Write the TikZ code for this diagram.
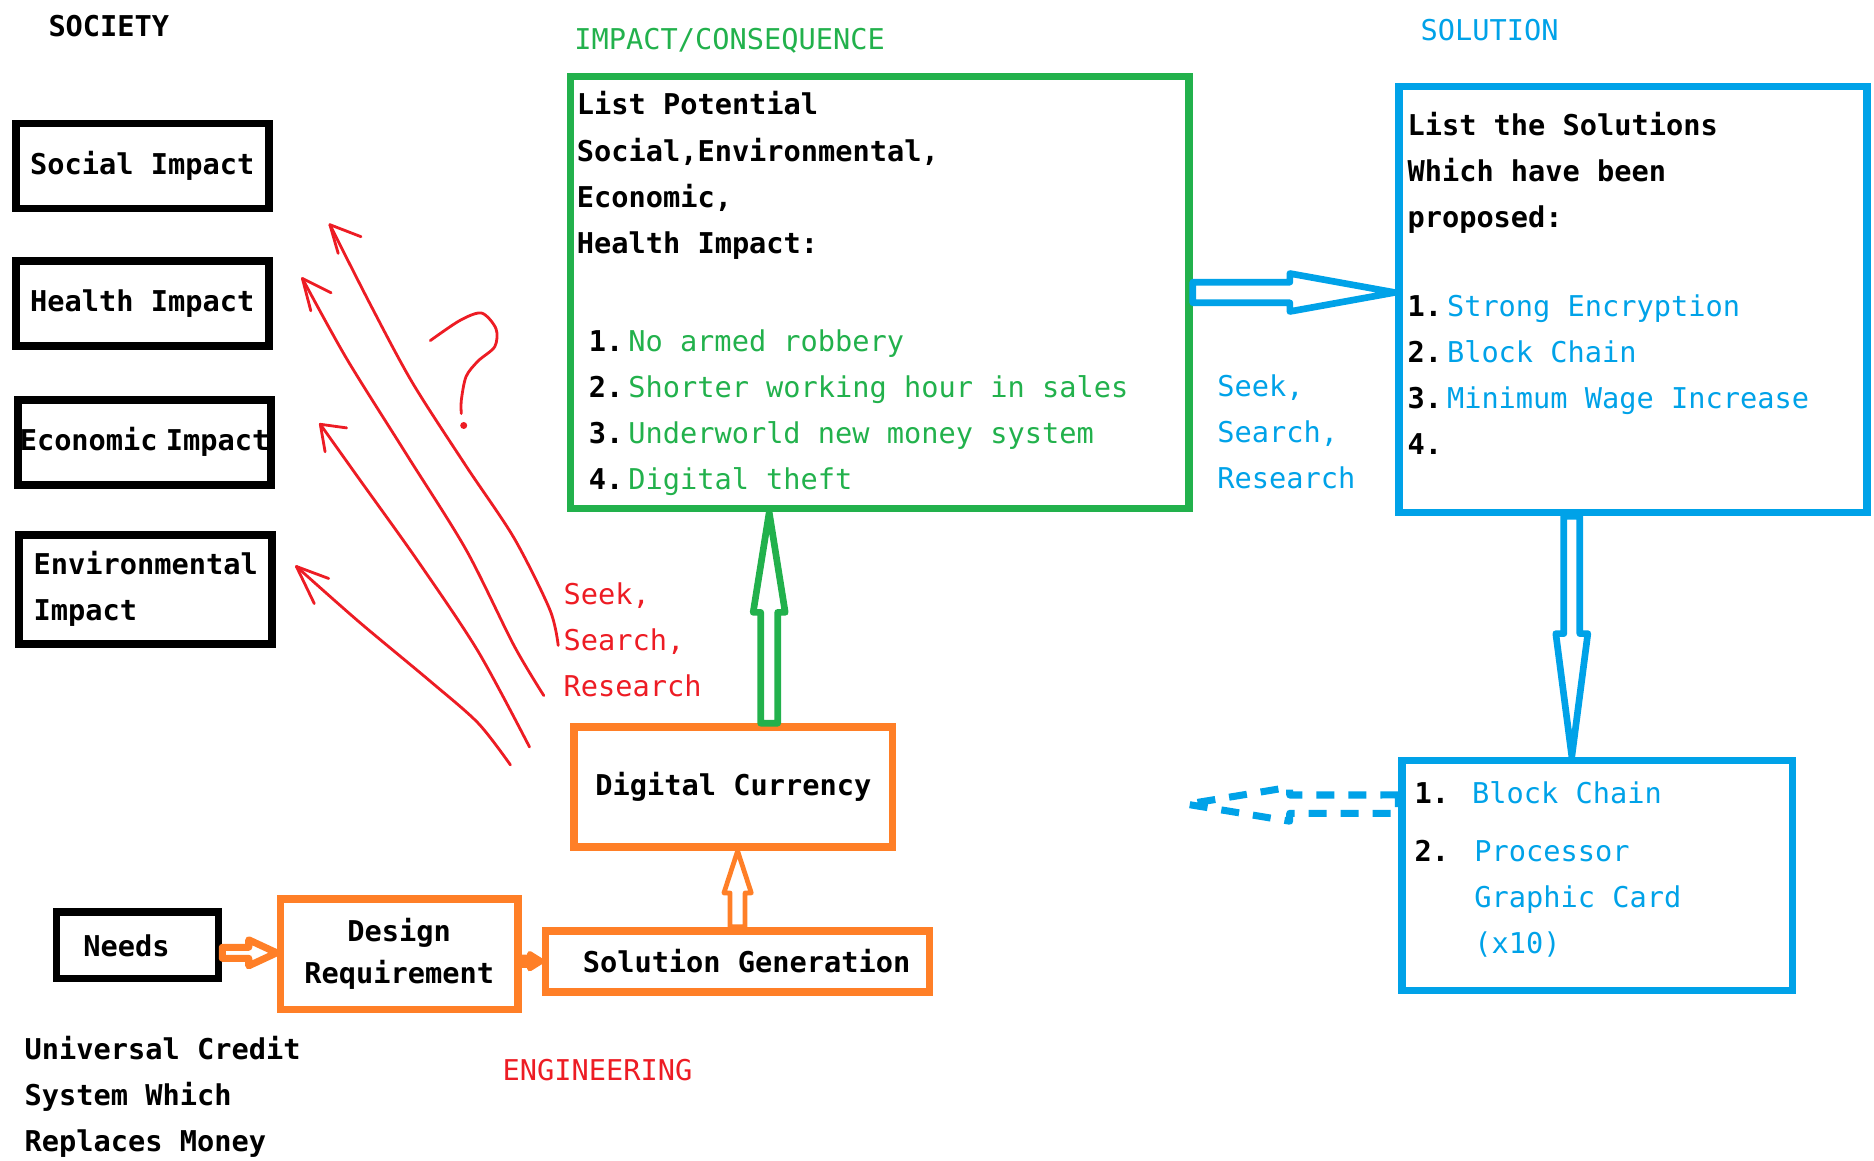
\documentclass[tikz,border=0pt]{standalone}
\usepackage{fontspec}
\newfontfamily\monofont{DejaVu Sans Mono}
\usetikzlibrary{calc}

\definecolor{paintgreen}{RGB}{34,177,76}
\definecolor{paintblue}{RGB}{0,162,232}
\definecolor{paintorange}{RGB}{255,127,39}
\definecolor{paintred}{RGB}{237,28,36}

% outline of a block arrow: [style]{from}{to}{shaft half width}{head half width}{head length}
\newcommand{\hollowarrow}[6][]{%
  \coordinate (ha-base) at ($(#3)!#6!(#2)$);
  \draw[#1] ($(#2)!#4!-90:(#3)$) -- ($(ha-base)!#4!90:(#2)$)
    -- ($(ha-base)!#5!90:(#2)$) -- (#3) -- ($(ha-base)!#5!-90:(#2)$)
    -- ($(ha-base)!#4!-90:(#2)$) -- ($(#2)!#4!90:(#3)$) -- cycle;
}
% numbered entry: black number, coloured text
\newcommand{\numitem}[3]{#1\hspace{0.05cm}{\mdseries\color{#3}#2}}

\begin{document}
\begin{tikzpicture}[
  mono/.style={font=\monofont\fontsize{8.15pt}{13.1pt}\selectfont, inner sep=0pt},
  monobf/.style={font=\monofont\bfseries\fontsize{8.15pt}{13.1pt}\selectfont, inner sep=0pt},
  societybox/.style={monobf, draw, line width=2.2pt, minimum width=2.53cm, minimum height=0.85cm},
  orangebox/.style={monobf, draw=paintorange, line width=2.2pt},
  greenbox/.style={draw=paintgreen, line width=2.2pt, inner sep=0pt},
  bluebox/.style={draw=paintblue, line width=2.2pt, inner sep=0pt},
  blockarrow/.style={line width=1.9pt, line join=round},
  sketch/.style={paintred, line width=0.8pt, line cap=round, line join=round}
]
\useasboundingbox (0,0) rectangle (18.74,11.6);

% column headings
\path (0.478,11.232) node (society) [monobf, anchor=base west] {SOCIETY}
      (5.737,11.10) node (impact-head) [mono, anchor=base west, text=paintgreen] {IMPACT/CONSEQUENCE}
      (14.199,11.196) node (solution-head) [mono, anchor=base west, text=paintblue] {SOLUTION}
      (5.02,0.80) node (eng-head) [mono, anchor=base west, text=paintred] {ENGINEERING};

% society
\path (1.422,9.939) node (social) [societybox] {Social Impact}
      (1.422,8.564) node (health) [societybox] {Health Impact}
      (1.446,7.178) node (economic) [societybox] {Economic\hspace{-0.09cm} Impact}
      (1.458,5.708) node (environ) [societybox, minimum height=1.09cm, align=left] {Environmental\\Impact};

% impact / consequence (multi-line texts sit on the baseline of their last line)
\path (8.797,8.675) node (impact) [greenbox, minimum width=6.185cm, minimum height=4.32cm] {};
\path (5.761,6.70) node (impact-txt) [monobf, anchor=base west, align=left]
  {List Potential\\Social,Environmental,\\Economic,\\Health Impact:\\[15pt]
   \hspace*{0.12cm}\numitem{1.}{No armed robbery}{paintgreen}\\
   \hspace*{0.12cm}\numitem{2.}{Shorter working hour in sales}{paintgreen}\\
   \hspace*{0.12cm}\numitem{3.}{Underworld new money system}{paintgreen}\\
   \hspace*{0.12cm}\numitem{4.}{Digital theft}{paintgreen}};

% solutions
\path (16.327,8.606) node (sol) [bluebox, minimum width=4.68cm, minimum height=4.26cm] {};
\path (14.068,7.05) node (sol-txt) [monobf, anchor=base west, align=left]
  {List the Solutions\\Which have been\\proposed:\\[12.3pt]
   \numitem{1.}{Strong Encryption}{paintblue}\\
   \numitem{2.}{Block Chain}{paintblue}\\
   \numitem{3.}{Minimum Wage Increase}{paintblue}\\
   4.};
\path (15.974,2.845) node (solbot) [bluebox, minimum width=3.902cm, minimum height=2.3cm] {};
\path (14.139,2.065) node (solbot-txt) [monobf, anchor=base west, align=left]
  {1. {\mdseries\color{paintblue}Block Chain}\\[3.5pt]
   2.\hspace{0.253cm}{\mdseries\color{paintblue}Processor}\\
   \hspace*{0.598cm}{\mdseries\color{paintblue}Graphic Card}\\
   \hspace*{0.598cm}{\mdseries\color{paintblue}(x10)}};

% seek, search, research
\path (12.167,6.714) node (seek-blue) [mono, anchor=base west, align=left, text=paintblue] {Seek,\\Search,\\Research}
      (5.629,4.635) node (seek-red) [mono, anchor=base west, align=left, text=paintred] {Seek,\\Search,\\Research};

% engineering
\path (7.333,3.729) node (dc) [orangebox, minimum width=3.185cm, minimum height=1.2cm] {Digital Currency}
      (1.374,2.146) node (needs) [monobf, draw, line width=2.2pt, minimum width=1.62cm, minimum height=0.663cm, text width=1.08cm, align=left] {Needs}
      (3.992,2.058) node (design) [orangebox, minimum width=2.372cm, minimum height=1.105cm, align=center] {Design\\[-1.2pt]Requirement}
      (7.376,1.988) node (solgen) [orangebox, minimum width=3.84cm, minimum height=0.611cm] {\hspace{0.18cm}Solution Generation};
\path (0.239,0.081) node (credit) [monobf, anchor=base west, align=left] {Universal Credit\\System Which\\Replaces Money};

% block arrows
\coordinate (g0) at ($(dc.north west)!0.61!(dc.north east)$);
\coordinate (g1) at (g0 |- impact.south);
\hollowarrow[blockarrow, paintgreen]{g0}{g1}{0.085cm}{0.16cm}{1.0cm}
\coordinate (b0) at (impact.east -| sol.west);
\hollowarrow[blockarrow, paintblue]{impact.east}{b0}{0.103cm}{0.19cm}{1.05cm}
\coordinate (b1) at ($(sol.south west)!0.372!(sol.south east)$);
\coordinate (b2) at (b1 |- solbot.north);
\hollowarrow[blockarrow, paintblue]{b1}{b2}{0.08cm}{0.16cm}{1.23cm}
\coordinate (b3) at ($(solbot.north west)!0.2!(solbot.south west)$);
\coordinate (back) at (11.867,3.558);
\hollowarrow[blockarrow, paintblue, line width=2pt, dash pattern=on 0.18cm off 0.14cm]{b3}{back}{0.092cm}{0.17cm}{1.03cm}
\coordinate (o0) at (solgen.north |- dc.south);
\hollowarrow[blockarrow, paintorange, line width=1.35pt]{solgen.north}{o0}{0.075cm}{0.137cm}{0.42cm}
\coordinate (o1) at ($(needs.east)!0.2!(needs.south east)$);
\coordinate (o2) at (o1 -| design.west);
\hollowarrow[blockarrow, paintorange, line width=2pt]{o1}{o2}{0.055cm}{0.13cm}{0.28cm}
\coordinate (o3) at (design.east |- solgen.west);
\hollowarrow[blockarrow, paintorange, fill=paintorange, line width=1.5pt]{o3}{solgen.west}{0.04cm}{0.075cm}{0.12cm}

% hand-drawn arrows back to society
\draw[sketch] plot[smooth] coordinates {(5.582,5.146) (5.498,5.504) (5.139,6.222) (4.661,6.939) (4.123,7.775) (3.705,8.552) (3.299,9.353)};
\draw[sketch] (3.610,9.233) -- (3.299,9.353) -- (3.382,9.066);
\draw[sketch] plot[smooth] coordinates {(5.438,4.644) (5.139,5.146) (4.661,6.102) (4.064,7.058) (3.466,8.014) (3.024,8.815)};
\draw[sketch] (3.311,8.672) -- (3.024,8.815) -- (3.108,8.492);
\draw[sketch] plot[smooth] coordinates {(5.295,4.130) (4.781,5.086) (4.183,5.983) (3.586,6.819) (3.203,7.357)};
\draw[sketch] (3.466,7.321) -- (3.203,7.357) -- (3.251,7.082);
\draw[sketch] plot[smooth] coordinates {(5.104,3.951) (4.781,4.369) (4.303,4.787) (3.586,5.385) (2.964,5.935)};
\draw[sketch] (3.287,5.815) -- (2.964,5.935) -- (3.143,5.564);
% question mark
\draw[sketch] plot[smooth] coordinates {(4.303,8.194) (4.602,8.397) (4.817,8.469) (4.960,8.313) (4.948,8.134) (4.781,7.990) (4.661,7.835) (4.613,7.596) (4.613,7.465)};
\fill[paintred] (4.637,7.345) circle (0.035);
\end{tikzpicture}
\end{document}
